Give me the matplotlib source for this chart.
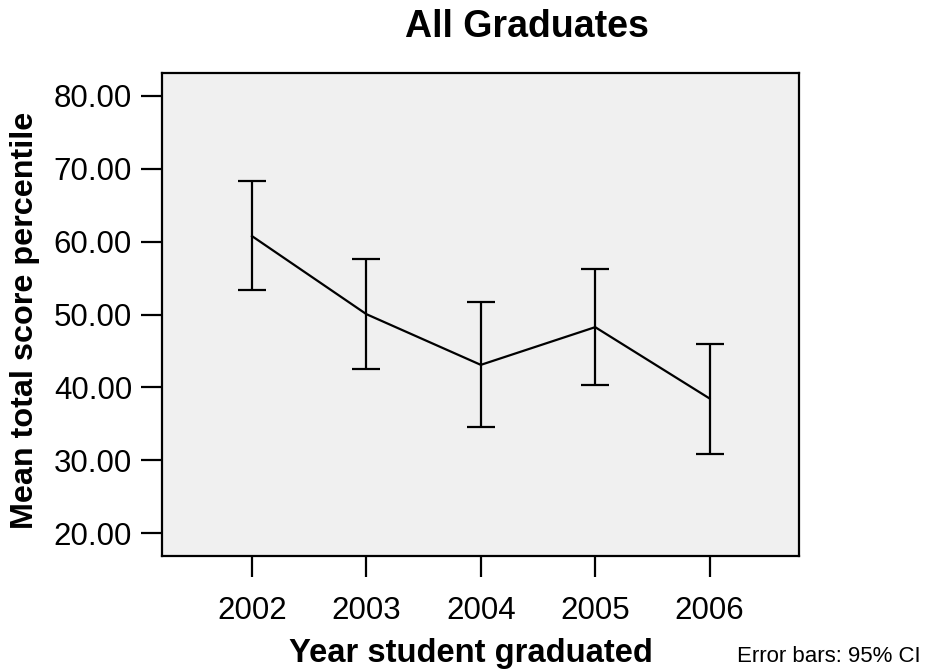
import matplotlib
matplotlib.use("Agg")
import matplotlib.pyplot as plt
import numpy as np

plt.rcParams['font.family'] = ['Liberation Sans', 'DejaVu Sans']

# Mean total score percentile by graduation year, with 95% CI bounds
years = ["2002", "2003", "2004", "2005", "2006"]
means = [60.75, 50.05, 43.10, 48.27, 38.49]
ci_low = [53.39, 42.55, 34.55, 40.31, 30.95]
ci_high = [68.30, 57.60, 51.66, 56.23, 45.90]
y_ticks = [20, 30, 40, 50, 60, 70, 80]

W, H = 929, 670
fig = plt.figure(figsize=(W / 100, H / 100), dpi=100)
fig.patch.set_facecolor("white")

left, right, top, bottom = 162.2, 799.4, 72.7, 556.0
ax = fig.add_axes([left / W, 1 - bottom / H, (right - left) / W, (bottom - top) / H])
ax.set_facecolor("#f0f0f0")

x = np.arange(len(years))
m = np.array(means)
lo = m - np.array(ci_low)
hi = np.array(ci_high) - m

ax.plot(x, m, color="black", lw=1.6, zorder=3)
ax.errorbar(x, m, yerr=[lo, hi], fmt="none", ecolor="black",
            elinewidth=1.6, capsize=10.3, capthick=1.6, zorder=3)

ax.set_xlim(-0.785, 4.785)
ax.set_ylim(16.9, 83.15)
ax.set_xticks(x)
ax.set_xticklabels(years)
ax.set_yticks(y_ticks)
ax.set_yticklabels([f"{v:.2f}" for v in y_ticks])

for s in ax.spines.values():
    s.set_linewidth(1.6)
    s.set_color("black")

ax.tick_params(axis="y", direction="out", length=15, width=1.6,
               labelsize=22.5, pad=6.7)
ax.tick_params(axis="x", direction="out", length=15, width=1.6,
               labelsize=22.5, pad=13.5)

fig.text(527 / W, 1 - 36.7 / H, "All Graduates", fontsize=27,
         fontweight="bold", ha="center", va="baseline")
fig.text(470.9 / W, 1 - 661.7 / H, "Year student graduated", fontsize=23.6,
         fontweight="bold", ha="center", va="baseline")
fig.text(33.5 / W, 1 - 320.5 / H, "Mean total score percentile", fontsize=23.3,
         fontweight="bold", ha="center", va="baseline", rotation=90,
         rotation_mode="anchor")
fig.text(737.3 / W, 1 - 662.3 / H, "Error bars: 95% CI", fontsize=16,
         ha="left", va="baseline")

fig.savefig("out.png", dpi=100)
